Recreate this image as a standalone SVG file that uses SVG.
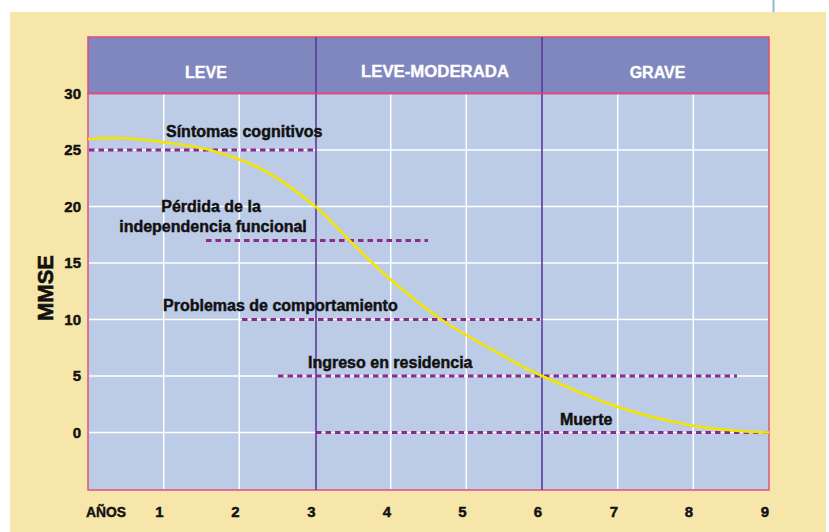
<svg xmlns="http://www.w3.org/2000/svg" width="829" height="532" viewBox="0 0 829 532">
<style>
.lbl{font-family:"Liberation Sans",Arial,sans-serif;font-weight:bold;font-size:16px;fill:#111;stroke:#111;stroke-width:0.45}
.hdr{font-family:"Liberation Sans",Arial,sans-serif;font-weight:bold;font-size:16px;fill:#fff;stroke:#fff;stroke-width:0.35;text-anchor:middle}
.ax{font-family:"Liberation Sans",Arial,sans-serif;font-weight:bold;font-size:15px;fill:#111;stroke:#111;stroke-width:0.45}
.yt{text-anchor:end}
.xt{text-anchor:middle}
.grid{stroke:#ffffff;stroke-width:1.5}
.phase{stroke:#5b3a9b;stroke-width:1.6}
.dash{stroke:#8d2a8a;stroke-width:3;stroke-dasharray:5.5 4;fill:none}
</style>
<rect x="0" y="0" width="829" height="532" fill="#ffffff"/>
<rect x="10" y="12" width="816" height="520" fill="#f7e6a9"/>
<line x1="773.5" y1="0" x2="773.5" y2="12" stroke="#8fbcd4" stroke-width="2"/>

<g id="header">
<rect x="88" y="37" width="681" height="56.5" fill="#8086be" stroke="#dc4a7c" stroke-width="1.5"/>
<text class="hdr" x="206" y="77.5">LEVE</text>
<text class="hdr" x="435" y="77" textLength="148" lengthAdjust="spacingAndGlyphs">LEVE-MODERADA</text>
<text class="hdr" x="657.5" y="77.5">GRAVE</text>
</g>

<g id="plot">
<rect x="88" y="93.5" width="681" height="396.5" fill="#bccbe6" stroke="#e0507e" stroke-width="1.5"/>
<g id="gridlines">
<line class="grid" x1="163.7" y1="94.5" x2="163.7" y2="489"/>
<line class="grid" x1="239.3" y1="94.5" x2="239.3" y2="489"/>
<line class="grid" x1="390.7" y1="94.5" x2="390.7" y2="489"/>
<line class="grid" x1="466.3" y1="94.5" x2="466.3" y2="489"/>
<line class="grid" x1="617.7" y1="94.5" x2="617.7" y2="489"/>
<line class="grid" x1="693.3" y1="94.5" x2="693.3" y2="489"/>
<line class="grid" x1="89" y1="150" x2="768" y2="150"/>
<line class="grid" x1="89" y1="206.5" x2="768" y2="206.5"/>
<line class="grid" x1="89" y1="263" x2="768" y2="263"/>
<line class="grid" x1="89" y1="319.5" x2="768" y2="319.5"/>
<line class="grid" x1="89" y1="376" x2="768" y2="376"/>
<line class="grid" x1="89" y1="432.5" x2="768" y2="432.5"/>
</g>
<line class="phase" x1="316" y1="37" x2="316" y2="490"/>
<line class="phase" x1="542" y1="37" x2="542" y2="490"/>
<line x1="88" y1="93.5" x2="769" y2="93.5" stroke="#dc4a7c" stroke-width="1.5"/>
</g>

<g id="axes">
<text class="ax yt" x="81" y="98.5">30</text>
<text class="ax yt" x="81" y="155">25</text>
<text class="ax yt" x="81" y="211.5">20</text>
<text class="ax yt" x="81" y="268">15</text>
<text class="ax yt" x="81" y="324.5">10</text>
<text class="ax yt" x="81" y="381">5</text>
<text class="ax yt" x="81" y="437.5">0</text>
<text class="ax" x="86" y="517" textLength="40" lengthAdjust="spacingAndGlyphs">AÑOS</text>
<text class="ax xt" x="159.5" y="517">1</text>
<text class="ax xt" x="235.5" y="517">2</text>
<text class="ax xt" x="311.5" y="517">3</text>
<text class="ax xt" x="387" y="517">4</text>
<text class="ax xt" x="462.5" y="517">5</text>
<text class="ax xt" x="538" y="517">6</text>
<text class="ax xt" x="614" y="517">7</text>
<text class="ax xt" x="689" y="517">8</text>
<text class="ax xt" x="765" y="517">9</text>
<text x="52.5" y="288" transform="rotate(-90 52.5 288)" text-anchor="middle" style="font-family:'Liberation Sans',Arial,sans-serif;font-weight:bold;font-size:22px;fill:#111;stroke:#111;stroke-width:0.6">MMSE</text>
</g>

<g id="milestones">
<line class="dash" x1="89" y1="150" x2="314" y2="150"/>
<line class="dash" x1="206" y1="240.5" x2="428" y2="240.5"/>
<line class="dash" x1="242" y1="319.5" x2="540" y2="319.5"/>
<line class="dash" x1="278" y1="376" x2="737" y2="376"/>
<line class="dash" x1="316" y1="432.5" x2="768" y2="432.5"/>
</g>

<g id="curve">
<path d="M88,139 C93.3,138.8 107.2,137.4 120,138 C132.8,138.6 149.7,140.4 165,142.5 C180.3,144.6 195.3,145.75 212,150.5 C228.7,155.25 247.7,161.6 265,171 C282.3,180.4 301.5,195 316,207 C330.5,219 339.7,231 352,243 C364.3,255 375,266.2 390,279 C405,291.8 423.7,307.5 442,320 C460.3,332.5 483.3,344.7 500,354 C516.7,363.3 522.3,367.2 542,376 C561.7,384.8 593.5,398.8 618,407 C642.5,415.2 668.7,421 689,425 C709.3,429 726.7,429.75 740,431 C753.3,432.25 764.2,432.25 769,432.5" fill="none" stroke="#f3e500" stroke-width="2.6"/>
</g>

<g id="labels">
<text class="lbl" x="166" y="136.5">Síntomas cognitivos</text>
<text class="lbl" x="211" y="212" text-anchor="middle">Pérdida de la</text>
<text class="lbl" x="213" y="231.5" text-anchor="middle">independencia funcional</text>
<text class="lbl" x="163" y="311">Problemas de comportamiento</text>
<text class="lbl" x="308" y="368">Ingreso en residencia</text>
<text class="lbl" x="560" y="425">Muerte</text>
</g>
</svg>
